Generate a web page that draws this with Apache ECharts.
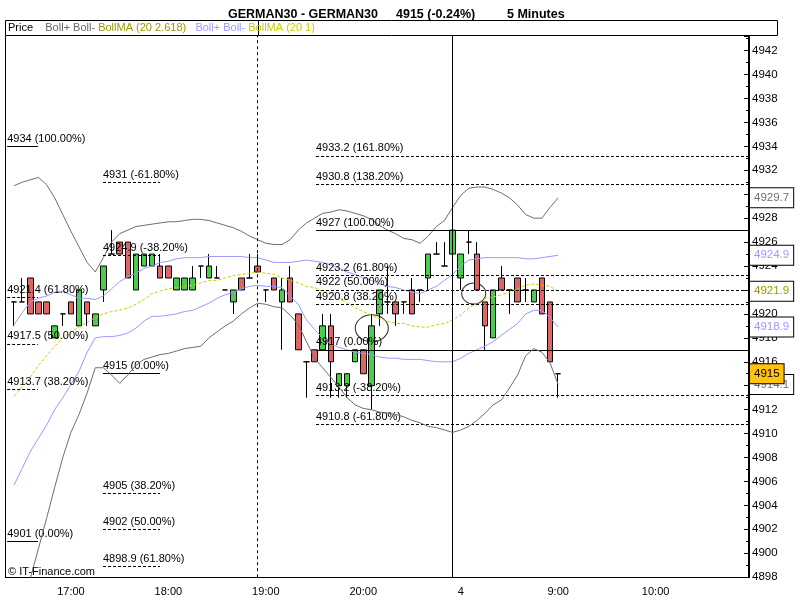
<!DOCTYPE html>
<html><head><meta charset="utf-8">
<script src="https://cdn.jsdelivr.net/npm/echarts/dist/echarts.min.js"></script>
<style>html,body{margin:0;padding:0;background:#fff}#c{width:800px;height:600px}</style>
</head><body><div id="c"></div>
<script>
const categories = [
'16:25','16:30','16:35','16:40','16:45','16:50','16:55',
'17:00','17:05','17:10','17:15','17:20','17:25','17:30','17:35','17:40','17:45','17:50','17:55',
'18:00','18:05','18:10','18:15','18:20','18:25','18:30','18:35','18:40','18:45','18:50','18:55',
'19:00','19:05','19:10','19:15','19:20','19:25','19:30','19:35','19:40','19:45','19:50','19:55',
'20:00','20:05','20:10','20:15','20:20','20:25','20:30','20:35','20:40','20:45','20:50','20:55',
'08:00','08:05','08:10','08:15','08:20','08:25','08:30','08:35','08:40','08:45','08:50','08:55',
'09:00','09:05','09:10','09:15','09:20','09:25','09:30','09:35','09:40','09:45','09:50','09:55',
'10:00','10:05','10:10','10:15','10:20','10:25','10:30','10:35','10:40','10:45','10:50','10:55'];
const tickLabels = {'17:00':'17:00','18:00':'18:00','19:00':'19:00','20:00':'20:00','08:00':'4','09:00':'9:00','10:00':'10:00'};

const opens  = [4921,4921,4923,4921,4921,4918,4920,4921,4919,4921, 4919,4922,4925,4926,4926,4922,4924,4924,4924,4924, 4922,4922,4922,4924,4923,4923,4922,4921,4923,4923, 4924,4922,4923,4921,4923,4920,4916,4917,4917,4919, 4914,4914,4916,4917,4914,4920,4921,4921,4921,4922, 4922,4923,4925,4924,4925,4923,4926,4925,4921,4918, 4923,4922,4923,4922,4921,4923,4921,4915];
const closes = [4921,4921,4920,4920,4920,4919,4920,4920,4922,4920, 4920,4924,4925,4925,4923,4925,4925,4925,4923,4923, 4923,4923,4923,4924,4924,4923,4922,4922,4922,4923, 4923.5,4922,4922,4922,4921,4917,4916,4916,4919,4916, 4915,4915,4917,4915,4919,4922,4921,4920,4921,4920, 4922,4925,4925,4924,4927,4925,4926,4922,4919,4922, 4922,4922,4921,4922,4922,4920,4916,4915];
const lows   = [4919,4921,4920,4920,4920,4918,4919,4920,4919,4919, 4919,4921,4925,4925,4923,4922,4924,4924,4923,4923, 4922,4922,4922,4923,4923,4923,4922,4920,4922,4923, 4923.5,4921,4922,4917,4921,4917,4913,4916,4917,4913, 4913,4913,4916,4915,4912,4919,4920,4919,4920,4920, 4921,4922,4925,4924,4925,4922,4925,4922,4917,4918, 4922,4920,4921,4921,4921,4920,4916,4913];
const highs  = [4921,4923,4923,4921,4921,4919,4920,4921,4922,4921, 4920,4924,4927,4926,4926,4925,4925,4925,4925,4924, 4923,4923,4924,4924,4925,4924,4922,4922,4923,4925, 4925,4922,4923,4923,4924,4920,4916,4917,4920,4920, 4915,4915,4917,4917,4920,4922,4924,4921,4921,4923, 4922,4925,4926,4926,4927,4925,4927,4926,4921,4922, 4924,4922,4923,4923,4922,4923,4921,4915];

const bollUpper2618 = [4930.7,4931.0,4931.2,4931.4,4930.8,4929.7,4928.3,4926.9,4925.6,4924.3,
 4923.5,4924.7,4926.0,4926.7,4927.0,4927.3,4927.4,4927.5,4927.6,4927.7,
 4927.7,4927.8,4927.9,4927.9,4927.8,4927.6,4927.4,4927.2,4926.9,4926.5,
 4926.2,4925.9,4925.8,4925.8,4926.2,4927.0,4927.6,4928.0,4928.4,4928.5,
 4928.7,4928.6,4928.4,4928.2,4927.9,4927.4,4927.0,4926.7,4926.3,4926.2,
 4925.9,4926.5,4927.3,4927.8,4928.9,4929.9,4930.5,4930.6,4930.6,4930.4,
 4930.1,4929.7,4929.1,4928.3,4928.0,4928.0,4928.9,4929.7];
const bollLower2618 = [4894.4,4896.1,4897.9,4900.4,4902.9,4905.5,4908.0,4910.1,4911.6,4913.4,
 4915.5,4915.5,4914.9,4914.2,4914.9,4915.7,4916.2,4916.4,4916.6,4916.7,
 4916.9,4917.1,4917.2,4917.3,4918.0,4918.5,4919.0,4919.4,4920.0,4920.5,
 4920.9,4920.8,4920.6,4920.5,4919.9,4919.1,4917.7,4916.3,4915.5,4914.7,
 4913.9,4913.0,4912.4,4912.1,4912.0,4911.8,4911.7,4911.6,4911.4,4911.1,
 4910.9,4910.6,4910.5,4910.3,4910.1,4910.3,4910.6,4911.1,4911.7,4912.4,
 4912.8,4913.8,4914.9,4916.5,4917.1,4916.8,4915.9,4914.1];
const bollUpper1 = [4919.1,4920.1,4921.0,4921.3,4921.5,4921.8,4921.9,4921.6,4921.3,4921.3,
 4921.2,4921.5,4922.1,4922.7,4923.1,4923.4,4923.8,4924.0,4924.3,4924.4,
 4924.6,4924.7,4924.7,4924.7,4924.8,4924.8,4924.8,4924.8,4924.8,4924.7,
 4924.7,4924.5,4924.3,4924.3,4924.3,4924.4,4924.5,4924.4,4924.3,4924.1,
 4923.8,4923.5,4923.3,4923.0,4922.8,4922.5,4922.3,4922.2,4922.0,4921.8,
 4921.7,4922.0,4922.3,4922.8,4923.3,4924.0,4924.5,4924.6,4924.7,4924.7,
 4924.7,4924.7,4924.7,4924.6,4924.6,4924.7,4924.8,4924.9];
const bollLower1 = [4905.7,4907.1,4908.5,4909.6,4910.7,4912.0,4913.0,4914.1,4915.2,4916.8,
 4918.0,4918.1,4918.1,4918.2,4918.4,4918.8,4919.4,4919.8,4919.8,4919.9,
 4920.0,4920.2,4920.3,4920.6,4920.9,4921.3,4921.6,4921.8,4922.1,4922.3,
 4922.4,4922.3,4922.3,4922.2,4921.5,4920.8,4919.5,4918.7,4918.0,4917.5,
 4917.2,4917.0,4916.8,4916.7,4916.6,4916.4,4916.3,4916.3,4916.2,4916.2,
 4916.2,4916.1,4916.0,4916.0,4916.0,4916.3,4916.7,4917.0,4917.3,4917.7,
 4918.2,4918.7,4919.2,4920.0,4920.3,4920.3,4919.7,4918.9];
const bollMA = [4913.1,4913.9,4914.7,4915.7,4916.5,4917.3,4918.0,4918.5,4918.9,4919.3,
 4919.7,4920.0,4920.2,4920.3,4920.5,4920.8,4921.2,4921.7,4921.9,4922.1,
 4922.2,4922.3,4922.4,4922.6,4922.8,4922.8,4923.0,4923.2,4923.3,4923.4,
 4923.5,4923.4,4923.3,4923.0,4922.8,4922.6,4922.3,4922.2,4921.9,4921.7,
 4921.3,4920.9,4920.5,4920.2,4919.9,4919.6,4919.4,4919.2,4919.2,4919.0,
 4918.9,4918.9,4919.1,4919.2,4919.5,4919.9,4920.5,4920.9,4921.3,4921.4,
 4921.6,4921.8,4922.1,4922.4,4922.5,4922.4,4922.3,4921.9];

const fibLevelsA = [4934, 4921.4, 4917.5, 4913.7, 4901];
const fibLabelsA = ['4934 (100.00%)','4921.4 (61.80%)','4917.5 (50.00%)','4913.7 (38.20%)','4901 (0.00%)'];
const fibLevelsB = [4931, 4924.9, 4915, 4905, 4902, 4898.9];
const fibLabelsB = ['4931 (-61.80%)','4924.9 (-38.20%)','4915 (0.00%)','4905 (38.20%)','4902 (50.00%)','4898.9 (61.80%)'];
const fibLevelsC = [4933.2, 4930.8, 4927, 4923.2, 4922, 4920.8, 4917, 4913.2, 4910.8];
const fibLabelsC = ['4933.2 (161.80%)','4930.8 (138.20%)','4927 (100.00%)','4923.2 (61.80%)','4922 (50.00%)','4920.8 (38.20%)','4917 (0.00%)','4913.2 (-38.20%)','4910.8 (-61.80%)'];

const markedCircles = [[44.55, 4918.8], [57.1, 4921.7]];
const dayBreaks = ['18:55', '20:55'];

const FONT = 'Liberation Sans';
const chart = echarts.init(document.getElementById('c'), null, {renderer: 'canvas'});

function fibLines(levels, labels, x0, x1) {
  return levels.map((v, k) => {
    const solid = /\((0|100)\.00%\)/.test(labels[k]);
    return [{coord: [x0, v], name: labels[k],
             lineStyle: {type: solid ? 'solid' : [3, 2], color: '#000', width: 1}},
            {coord: [x1, v]}];
  });
}
function endBox(value, color, bg, text) {
  return {yAxis: value,
    lineStyle: {width: 1, color: 'rgba(0,0,0,0)', type: 'solid'},
    label: {show: true, position: 'end', distance: 1, formatter: text,
      color: color, backgroundColor: bg, borderColor: '#000', borderWidth: 1,
      padding: [4, 4, 3, 4], fontFamily: FONT, fontSize: 11.5}};
}
const last = a => a[a.length - 1];
const Y_MIN = 4898, Y_MAX = 4943.22;

function band(name, data, color, z, extra) {
  return Object.assign({
    name: name, type: 'line', xAxisIndex: 0, yAxisIndex: 0, data: data,
    symbol: 'none', showSymbol: false, silent: true, z: z,
    lineStyle: {color: color, width: 1}
  }, extra || {});
}
function boxLine(items) {
  return {silent: true, symbol: ['none', 'none'], animation: false, data: items};
}

const option = {
  animation: false,
  backgroundColor: '#fff',
  title: [
    {text: 'GERMAN30 - GERMAN30', left: 223, top: 3, textStyle: {fontFamily: FONT, fontSize: 12.5, fontWeight: 'bold', color: '#000'}},
    {text: '4915 (-0.24%)', left: 391, top: 3, textStyle: {fontFamily: FONT, fontSize: 12.5, fontWeight: 'bold', color: '#000'}},
    {text: '5 Minutes', left: 502, top: 3, textStyle: {fontFamily: FONT, fontSize: 12.5, fontWeight: 'bold', color: '#000'}}
  ],
  grid: [
    {left: 10, right: 51, top: 36, bottom: 22.8},
    {left: 5, right: 51, top: 36, bottom: 22.8}
  ],
  xAxis: [
    {type: 'category', gridIndex: 0, data: categories, boundaryGap: true,
     axisLine: {show: false}, axisTick: {show: false}, splitLine: {show: false},
     axisLabel: {interval: (i, v) => tickLabels[v] !== undefined,
                 formatter: v => tickLabels[v] || '', color: '#000', fontFamily: FONT, fontSize: 11, margin: 9}},
    {type: 'value', gridIndex: 1, min: -0.616, max: 91, show: false}
  ],
  yAxis: [
    {type: 'value', gridIndex: 0, position: 'right', min: Y_MIN, max: Y_MAX, interval: 2,
     axisLine: {show: true, lineStyle: {color: '#000', width: 2}},
     axisTick: {show: true, inside: true, length: 5, lineStyle: {color: '#000'}},
     minorTick: {show: true, splitNumber: 2, length: 3, lineStyle: {color: '#000'}},
     splitLine: {show: false},
     axisLabel: {showMaxLabel: false, formatter: v => String(v), color: '#000', fontFamily: FONT, fontSize: 11.5, margin: 3}},
    {type: 'value', gridIndex: 1, min: Y_MIN, max: Y_MAX, show: false}
  ],
  series: [
    {name: 'fib', type: 'scatter', xAxisIndex: 1, yAxisIndex: 1, z: 1, silent: true,
     data: markedCircles.map((p, k) => ({value: p, symbolSize: k === 0 ? [33, 27] : [24, 21]})),
     symbol: 'circle',
     itemStyle: {color: 'rgba(0,0,0,0)', borderColor: '#000', borderWidth: 1},
     markLine: {silent: true, symbol: ['none', 'none'], animation: false,
       label: {show: true, position: 'insideStartTop', formatter: '{b}', color: '#000',
               fontFamily: FONT, fontSize: 11, distance: [0, 2]},
       data: [].concat(fibLines(fibLevelsA, fibLabelsA, -0.35, 3.45),
                       fibLines(fibLevelsB, fibLabelsB, 11.45, 18.47),
                       fibLines(fibLevelsC, fibLabelsC, 37.68, 91))}},
    {name: 'Price', type: 'candlestick', xAxisIndex: 0, yAxisIndex: 0, z: 3, silent: true,
     barWidth: 6,
     data: opens.map((o, i) => [o, closes[i], lows[i], highs[i]]),
     itemStyle: {color: '#4ccc4c', color0: '#e06666', borderColor: '#000', borderColor0: '#000',
                 borderColorDoji: '#000', borderWidth: 1},
     markLine: {silent: true, symbol: ['none', 'none'], animation: false, label: {show: false},
       data: [{xAxis: dayBreaks[0], lineStyle: {color: '#000', type: [3, 3], width: 1}},
              {xAxis: dayBreaks[1], lineStyle: {color: '#000', type: 'solid', width: 1}}]}},
    band('BollMA', bollMA, '#cccc00', 4, {lineStyle: {color: '#cccc00', width: 1, type: [3, 2]},
      markLine: boxLine([endBox(last(bollMA), '#999900', '#fff', last(bollMA).toFixed(1))])}),
    band('Boll+ 1', bollUpper1, '#9999ff', 4, {
      markLine: boxLine([endBox(last(bollUpper1), '#9999ff', '#fff', last(bollUpper1).toFixed(1))])}),
    band('Boll- 1', bollLower1, '#9999ff', 4, {
      markLine: boxLine([endBox(last(bollLower1), '#9999ff', '#fff', last(bollLower1).toFixed(1))])}),
    band('Boll+ 2.618', bollUpper2618, '#6e6e6e', 4, {
      markLine: boxLine([endBox(last(bollUpper2618), '#6e6e6e', '#fff', last(bollUpper2618).toFixed(1))])}),
    band('Boll- 2.618', bollLower2618, '#6e6e6e', 5, {
      markLine: boxLine([endBox(last(bollLower2618), '#6e6e6e', '#fff', last(bollLower2618).toFixed(1)),
                         endBox(last(closes), '#000', '#ffc20e', String(last(closes)))])})
  ],
  graphic: [
    {type: 'rect', silent: true, shape: {x: 5.5, y: 20.5, width: 772, height: 15}, style: {fill: null, stroke: '#000', lineWidth: 1}},
    {type: 'line', silent: true, shape: {x1: 258.5, y1: 20.5, x2: 258.5, y2: 36}, style: {stroke: '#000', lineWidth: 1}},
    {type: 'line', silent: true, shape: {x1: 5.5, y1: 36, x2: 5.5, y2: 578}, style: {stroke: '#000', lineWidth: 1}},
    {type: 'line', silent: true, shape: {x1: 5, y1: 577.5, x2: 749, y2: 577.5}, style: {stroke: '#000', lineWidth: 1}},
    {type: 'text', silent: true, left: 8, top: 22, style: {
      text: '{p|Price}    {g|Boll+ Boll-} {o|BollMA (20 2.618)}   {b|Boll+ Boll-} {y|BollMA (20 1)}',
      font: '11px ' + FONT,
      rich: {p: {fill: '#000', font: '11px ' + FONT}, g: {fill: '#666666', font: '11px ' + FONT},
             o: {fill: '#999900', font: '11px ' + FONT}, b: {fill: '#9999ff', font: '11px ' + FONT},
             y: {fill: '#cccc00', font: '11px ' + FONT}}}},
    {type: 'text', silent: true, left: 8, top: 566, z: 10, style: {text: '\u00a9 IT-Finance.com', fill: '#000', font: '11px ' + FONT}}
  ]
};
chart.setOption(option);
</script>
</body></html>
